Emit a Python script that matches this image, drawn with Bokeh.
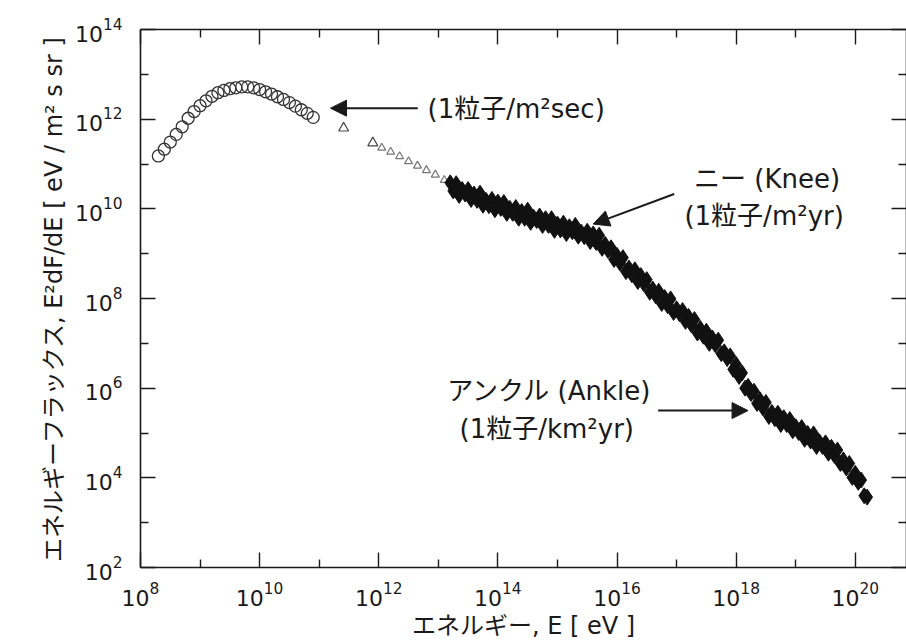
from bokeh.plotting import figure
from bokeh.models import Range1d, FixedTicker, LogAxis, Label, Arrow, NormalHead
from bokeh.embed import file_html
from bokeh.resources import INLINE

# ---- data (log10 of energy [eV] and of E^2 dF/dE [eV m^-2 s^-1 sr^-1]) ----
log_e_circles = [8.30, 8.40, 8.50, 8.60, 8.70, 8.80, 8.90, 9.00, 9.10, 9.20, 9.30, 9.40, 9.50, 9.60,
                 9.70, 9.80, 9.90, 10.00, 10.10, 10.20, 10.30, 10.40, 10.50, 10.60, 10.70, 10.80, 10.90]
log_f_circles = [11.18, 11.33, 11.49, 11.66, 11.83, 12.02, 12.17, 12.30, 12.41, 12.51, 12.59, 12.64, 12.68, 12.70,
                 12.72, 12.72, 12.70, 12.66, 12.61, 12.56, 12.50, 12.44, 12.37, 12.29, 12.21, 12.13, 12.04]

log_e_triangles = [11.41, 11.90, 12.05, 12.20, 12.35, 12.50, 12.65, 12.80, 12.95, 13.10]
log_f_triangles = [11.80, 11.47, 11.36, 11.27, 11.17, 11.06, 10.96, 10.86, 10.76, 10.64]

log_e_band_a = [13.2, 13.3, 13.4, 13.5, 13.6, 13.7, 13.8, 13.9, 14.0, 14.1, 14.2, 14.3, 14.4, 14.5, 14.6,
                14.7, 14.8, 14.9, 15.0, 15.1, 15.2, 15.3, 15.4, 15.5, 15.6, 15.7, 15.8, 15.9, 16.0, 16.1,
                16.2, 16.3, 16.4, 16.5, 16.6, 16.7, 16.8, 16.9, 17.0, 17.1, 17.2, 17.3, 17.4, 17.5, 17.6,
                17.7, 17.8, 17.9, 18.0, 18.1, 18.2, 18.3, 18.4, 18.5, 18.6, 18.7, 18.8, 18.9, 19.0, 19.1,
                19.2, 19.3, 19.4, 19.5, 19.6, 19.7, 19.8, 19.9, 20.0, 20.1, 20.2]
log_f_band_a = [10.58, 10.56, 10.43, 10.43, 10.33, 10.35, 10.19, 10.21, 10.15, 10.14, 10.01, 10.03, 9.94, 9.97, 9.81,
                9.84, 9.78, 9.78, 9.66, 9.68, 9.60, 9.63, 9.48, 9.50, 9.44, 9.41, 9.21, 9.13, 8.96, 8.91,
                8.68, 8.64, 8.51, 8.42, 8.21, 8.16, 8.02, 7.99, 7.77, 7.73, 7.60, 7.53, 7.33, 7.27, 7.12,
                7.07, 6.81, 6.72, 6.53, 6.34, 6.04, 5.93, 5.74, 5.68, 5.46, 5.44, 5.34, 5.30, 5.14, 5.12,
                4.99, 4.98, 4.80, 4.78, 4.68, 4.62, 4.40, 4.32, 4.10, 3.95, 3.57]

log_e_band_b = [13.25, 13.35, 13.45, 13.55, 13.65, 13.75, 13.85, 13.95, 14.05, 14.15, 14.25, 14.35, 14.45, 14.55,
                14.65, 14.75, 14.85, 14.95, 15.05, 15.15, 15.25, 15.35, 15.45, 15.55, 15.65, 15.75, 15.85, 15.95,
                16.05, 16.15, 16.25, 16.35, 16.45, 16.55, 16.65, 16.75, 16.85, 16.95, 17.05, 17.15, 17.25, 17.35,
                17.45, 17.55, 17.65, 17.75, 17.85, 17.95, 18.05, 18.15, 18.25, 18.35, 18.45, 18.55, 18.65, 18.75,
                18.85, 18.95, 19.05, 19.15, 19.25, 19.35, 19.45, 19.55, 19.65, 19.75, 19.85, 19.95, 20.05, 20.15]
log_f_band_b = [10.40, 10.30, 10.33, 10.21, 10.19, 10.08, 10.07, 9.98, 10.01, 9.90, 9.90, 9.79, 9.79, 9.70,
                9.74, 9.63, 9.63, 9.52, 9.53, 9.45, 9.49, 9.39, 9.38, 9.27, 9.25, 9.12, 9.07, 8.87,
                8.79, 8.60, 8.53, 8.38, 8.33, 8.14, 8.06, 7.89, 7.84, 7.69, 7.66, 7.49, 7.41, 7.23,
                7.16, 7.00, 6.97, 6.77, 6.66, 6.42, 6.26, 6.00, 5.88, 5.66, 5.56, 5.37, 5.32, 5.19,
                5.19, 5.05, 5.01, 4.86, 4.82, 4.70, 4.70, 4.55, 4.50, 4.32, 4.22, 4.01, 3.90, 3.60]

x_major = [1e8, 1e10, 1e12, 1e14, 1e16, 1e18, 1e20]
x_minor = [1e9, 1e11, 1e13, 1e15, 1e17, 1e19, 1e21]
y_major = [1e2, 1e4, 1e6, 1e8, 1e10, 1e12, 1e14]
y_minor = [1e3, 1e5, 1e7, 1e9, 1e11, 1e13]

x_title = "エネルギー, E [ eV ]"
y_title = "エネルギーフラックス, E²dF/dE [ eV / m² s sr ]"


def pw(v):
    return [10.0 ** t for t in v]


INK = "#1a1a1a"
MIXED = "'DejaVu Sans', 'Noto Sans CJK JP'"

p = figure(width=906, height=643, x_axis_type="log", y_axis_type="log",
           x_range=Range1d(1e8, 10 ** 20.86), y_range=Range1d(1e2, 1e14),
           output_backend="svg", toolbar_location=None,
           min_border_left=140, min_border_right=0, min_border_top=29, min_border_bottom=76)
p.grid.visible = False
p.outline_line_color = None
p.background_fill_color = "white"
p.border_fill_color = "white"

p.add_layout(LogAxis(), "above")
p.add_layout(LogAxis(), "right")


def style(ax, major, minor, show, standoff=12, label_standoff=4):
    ax.ticker = FixedTicker(ticks=major, minor_ticks=minor)
    ax.axis_line_color = INK
    ax.axis_line_width = 1.6
    ax.major_tick_line_color = INK
    ax.minor_tick_line_color = INK
    ax.major_tick_line_width = 1.4
    ax.minor_tick_line_width = 1.4
    ax.major_tick_in = 15
    ax.major_tick_out = 0
    ax.minor_tick_in = 8
    ax.minor_tick_out = 0
    if show:
        ax.major_label_text_font = "DejaVu Sans"
        ax.major_label_text_font_size = "22px"
        ax.major_label_text_color = INK
        ax.major_label_standoff = standoff
        ax.axis_label_text_font = MIXED
        ax.axis_label_text_font_size = "24px"
        ax.axis_label_text_font_style = "normal"
        ax.axis_label_text_color = INK
        ax.axis_label_standoff = label_standoff
    else:
        ax.major_label_text_font_size = "1px"
        ax.major_label_text_color = None
        ax.major_label_standoff = 0


style(p.below[0], x_major, x_minor, True, 14, 3)
style(p.above[0], x_major, x_minor, False)
style(p.left[0], y_major, y_minor, True, 18, 4)
style(p.right[0], y_major, y_minor, False)
p.below[0].axis_label = x_title
p.left[0].axis_label = y_title

# data marks
p.scatter(pw(log_e_circles), pw(log_f_circles), marker="circle", size=12,
          fill_color=None, line_color="#333333", line_width=1.3)
p.scatter(pw(log_e_triangles[:2]), pw(log_f_triangles[:2]), marker="triangle", size=10,
          fill_color=None, line_color="#444444", line_width=1.2)
p.scatter(pw(log_e_triangles[2:]), pw(log_f_triangles[2:]), marker="triangle", size=8,
          fill_color=None, line_color="#777777", line_width=1.2)
p.scatter(pw(log_e_band_a), pw(log_f_band_a), marker="diamond", size=16,
          fill_color="#111111", line_color="#111111")
p.scatter(pw(log_e_band_b), pw(log_f_band_b), marker="diamond", size=16,
          fill_color="#111111", line_color="#111111")


# annotations
def arrow(x0, y0, x1, y1):
    p.add_layout(Arrow(end=NormalHead(size=16, fill_color=INK, line_color=INK),
                       x_start=10 ** x0, y_start=10 ** y0, x_end=10 ** x1, y_end=10 ** y1,
                       line_color=INK, line_width=2))


def label(x, y, text, align):
    p.add_layout(Label(x=10 ** x, y=10 ** y, text=text, text_font=MIXED, text_font_size="26px",
                       text_color=INK, text_align=align, text_baseline="middle"))


arrow(12.655, 12.245, 11.19, 12.245)
label(12.82, 12.22, "(1粒子/m²sec)", "left")

arrow(16.96, 10.33, 15.60, 9.66)
label(18.52, 10.66, "ニー (Knee)", "center")
label(18.47, 9.84, "(1粒子/m²yr)", "center")

arrow(16.69, 5.50, 18.20, 5.50)
label(14.87, 5.94, "アンクル (Ankle)", "center")
label(14.82, 5.10, "(1粒子/km²yr)", "center")

open("out.html", "w").write(file_html(p, INLINE))
